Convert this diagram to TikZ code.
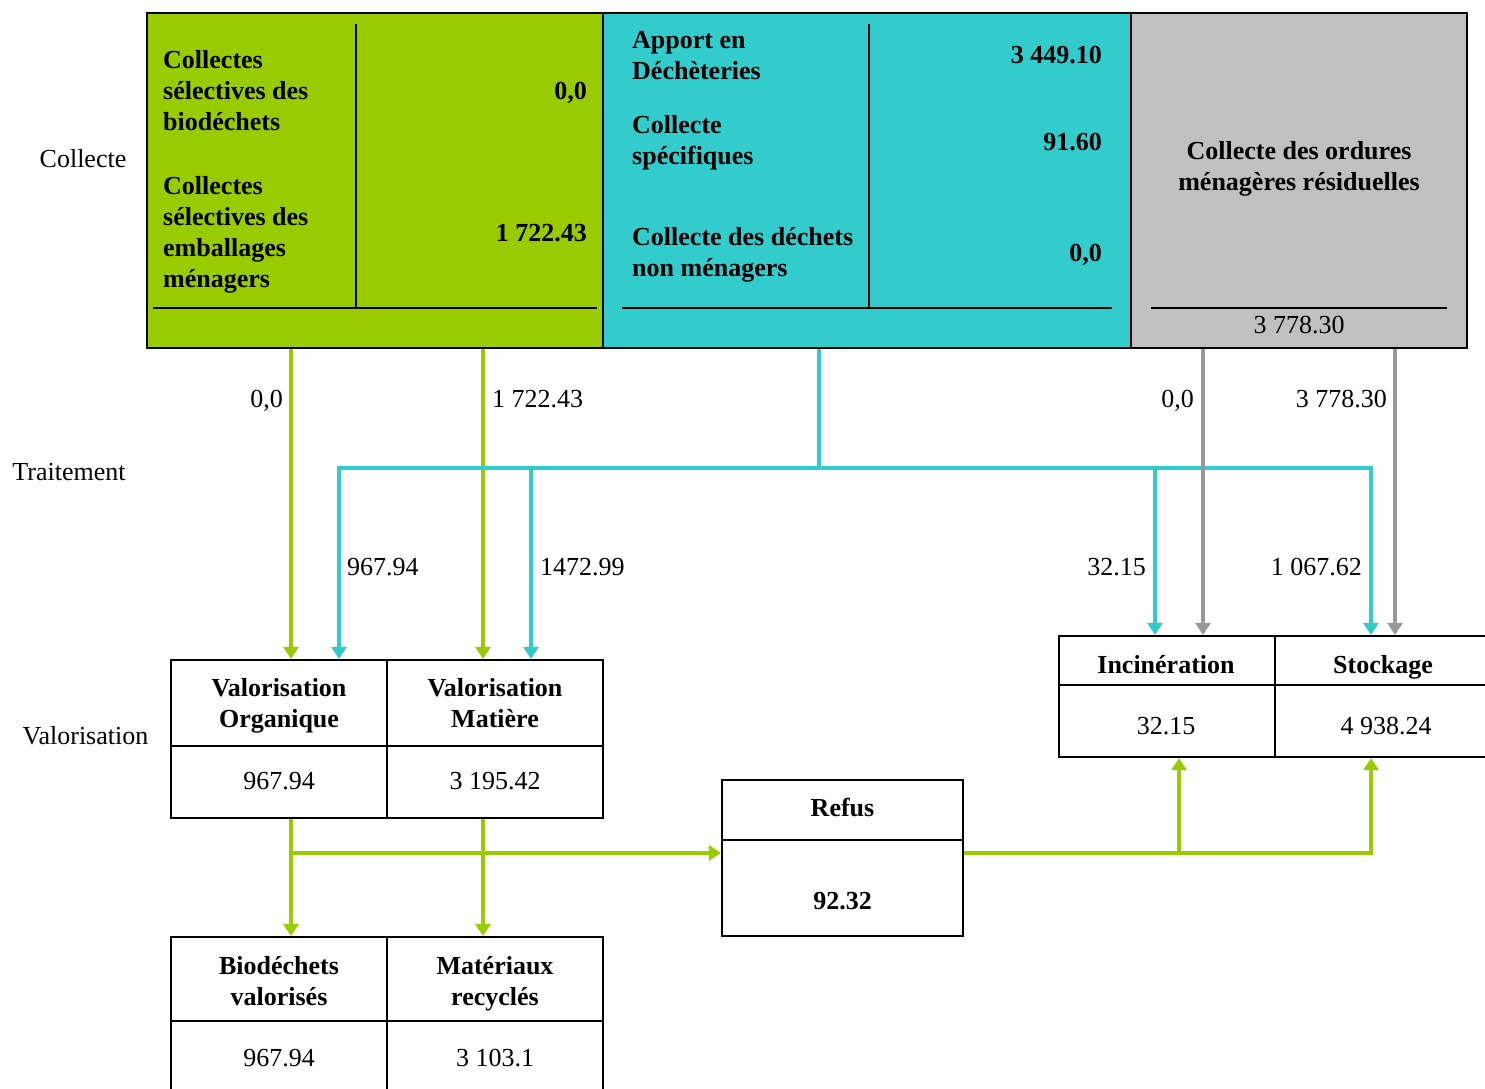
\documentclass[tikz,border=0pt]{standalone}
\usepackage{fontspec}
\setmainfont{Liberation Serif}
\usetikzlibrary{arrows.meta}
\definecolor{vgreen}{HTML}{99CC00}
\definecolor{vcyan}{HTML}{33CCCC}
\definecolor{vgray}{HTML}{C0C0C0}
\definecolor{agray}{HTML}{999999}
\begin{document}
\begin{tikzpicture}[x=1pt,y=-1pt,
  every node/.style={font=\fontsize{26}{31}\selectfont, inner sep=0pt},
  bf/.style={font=\fontsize{26}{31}\selectfont\bfseries},
  panel/.style={draw=black, line width=2.5pt, minimum height=335},
  cell/.style={draw=black, line width=2.2pt, minimum width=216, align=center, bf},
  vcell/.style={draw=black, line width=2.2pt, minimum width=216, align=center},
  sep/.style={draw=black, line width=2pt},
  flow/.style={line width=3.5pt},
  tip/.style={flow, arrows={-Triangle[width=15pt,length=12pt]}},
  garr/.style={tip, draw=vgreen},
  carr/.style={tip, draw=vcyan},
  grarr/.style={tip, draw=agray},
  cl/.style={flow, draw=vcyan},
  lft/.style={anchor=west, align=left, bf},
  rgt/.style={anchor=east, align=right, bf}]
\useasboundingbox (0,0) rectangle (1485,1088);
\clip (0,0) rectangle (1485,1088);
\fill[white] (0,0) rectangle (1485,1088);

% ---- collecte panels
\node[panel, fill=vgreen, minimum width=456] (gbox) at (375,180.5) {};
\node[panel, fill=vcyan, minimum width=528] (cbox) at (867,180.5) {};
\node[panel, fill=vgray, minimum width=336] (obox) at (1299,180.5) {};

\draw[sep] (356,24) -- (356,308);
\draw[sep] (153,308) -- (597,308);
\draw[sep] (869,24) -- (869,308);
\draw[sep] (622,308) -- (1112,308);
\draw[sep] (1151,308) -- (1447,308);

\node[lft] (g1t) at (163,93) {Collectes\strut\\sélectives des\strut\\biodéchets\strut};
\node[rgt] (g1v) at (587,93) {0,0\strut};
\node[lft] (g2t) at (163,235) {Collectes\strut\\sélectives des\strut\\emballages\strut\\ménagers\strut};
\node[rgt] (g2v) at (587,235) {1 722.43\strut};

\node[lft] (c1t) at (632,58) {Apport en\strut\\Déchèteries\strut};
\node[rgt] (c1v) at (1102,57) {3 449.10\strut};
\node[lft] (c2t) at (632,143) {Collecte\strut\\spécifiques\strut};
\node[rgt] (c2v) at (1102,144) {91.60\strut};
\node[lft] (c3t) at (632,255) {Collecte des déchets\strut\\non ménagers\strut};
\node[rgt] (c3v) at (1102,255) {0,0\strut};

\node[bf, align=center] (otxt) at (1299,169) {Collecte des ordures\strut\\ménagères résiduelles\strut};
\node (oval) at (1299,327) {3 778.30\strut};

% ---- row labels
\node (lcol) at (83,161) {Collecte\strut};
\node (ltrt) at (69,474) {Traitement\strut};
\node (lval) at (85.5,738) {Valorisation\strut};

% ---- valorisation boxes
\node[cell, minimum height=86] (voh) at (279,703) {};
\node[vcell, minimum height=72] (vov) at (279,782) {};
\node[cell, minimum height=86] (vmh) at (495,703) {};
\node[vcell, minimum height=72] (vmv) at (495,782) {};
\node[bf, align=center] (voht) at (279,705.5) {Valorisation\strut\\Organique\strut};
\node[bf, align=center] (vmht) at (495,705.5) {Valorisation\strut\\Matière\strut};
\node (vovt) at (279,783) {967.94\strut};
\node (vmvt) at (495,783) {3 195.42\strut};

\node[cell, minimum height=84] (bioh) at (279,979) {};
\node[vcell, minimum height=79] (biov) at (279,1060.5) {};
\node[cell, minimum height=84] (math) at (495,979) {};
\node[vcell, minimum height=79] (matv) at (495,1060.5) {};
\node[bf, align=center] (bioht) at (279,983.5) {Biodéchets\strut\\valorisés\strut};
\node[bf, align=center] (matht) at (495,983.5) {Matériaux\strut\\recyclés\strut};
\node (biovt) at (279,1060) {967.94\strut};
\node (matvt) at (495,1060) {3 103.1\strut};

\node[cell, minimum width=241, minimum height=60] (refh) at (842.5,810) {};
\node[vcell, minimum width=241, minimum height=96] (refv) at (842.5,888) {};
\node[bf] (refht) at (842.5,810) {Refus\strut};
\node[bf] (refval) at (842.5,903) {92.32\strut};

\node[cell, minimum height=49] (inch) at (1167,660.5) {};
\node[vcell, minimum height=72] (incv) at (1167,721) {};
\node[cell, minimum height=49] (stoh) at (1383,660.5) {};
\node[vcell, minimum height=72] (stov) at (1383,721) {};
\node[bf] (incht) at (1166,667) {Incinération\strut};
\node[bf] (stoht) at (1383,667) {Stockage\strut};
\node (incvt) at (1166,728) {32.15\strut};
\node (stovt) at (1386,728) {4 938.24\strut};

% ---- anchor coordinates
\coordinate (gvo) at ([xshift=12]voh.north);
\coordinate (cvo) at ([xshift=60]voh.north);
\coordinate (gvm) at ([xshift=-12]vmh.north);
\coordinate (cvm) at ([xshift=36]vmh.north);
\coordinate (cinc) at ([xshift=-12]inch.north);
\coordinate (ginc) at ([xshift=36]inch.north);
\coordinate (csto) at ([xshift=-12]stoh.north);
\coordinate (gsto) at ([xshift=12]stoh.north);
\coordinate (cj) at (819,468);
\coordinate (bvo) at ([xshift=12]vov.south);
\coordinate (bvm) at ([xshift=-12]vmv.south);
\coordinate (tbio) at ([xshift=12]bioh.north);
\coordinate (tmat) at ([xshift=-12]math.north);
\coordinate (rin) at ([yshift=35]refv.west);
\coordinate (rout) at ([yshift=35]refv.east);
\coordinate (uinc) at ([xshift=12]incv.south);
\coordinate (usto) at ([xshift=-12]stov.south);

% ---- green flows from collecte
\draw[garr] (gvo |- gbox.south) -- (gvo);
\draw[garr] (gvm |- gbox.south) -- (gvm);
% ---- cyan flows
\draw[cl] (cj |- cbox.south) -- (cj);
\draw[carr] (cj) -| (cvo);
\draw[carr] (cj) -| (cvm);
\draw[carr] (cj) -| (cinc);
\draw[carr] (cj) -| (csto);
% ---- gray flows
\draw[grarr] (ginc |- obox.south) -- (ginc);
\draw[grarr] (gsto |- obox.south) -- (gsto);
% ---- green flows below
\draw[garr] (bvo) -- (tbio);
\draw[garr] (bvm) -- (tmat);
\draw[garr] (bvo |- rin) -- (rin);
\draw[garr] (rout) -| (usto);
\draw[garr] (rout) -| (uinc);

% ---- flow labels
\node[anchor=east] (f1) at (283,401) {0,0\strut};
\node[anchor=west] (f2) at (492,401) {1 722.43\strut};
\node[anchor=west] (f3) at (347,569) {967.94\strut};
\node[anchor=west] (f4) at (540,569) {1472.99\strut};
\node[anchor=east] (f5) at (1146,569) {32.15\strut};
\node[anchor=east] (f6) at (1362,569) {1 067.62\strut};
\node[anchor=east] (f7) at (1194,401) {0,0\strut};
\node[anchor=east] (f8) at (1387,401) {3 778.30\strut};
\end{tikzpicture}
\end{document}
